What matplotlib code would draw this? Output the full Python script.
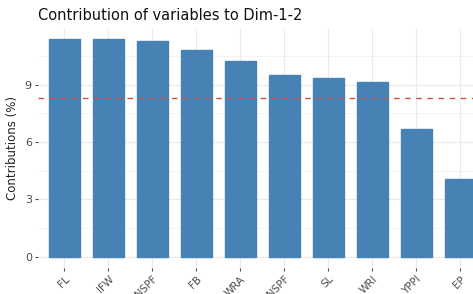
import matplotlib
matplotlib.use("Agg")
import matplotlib.pyplot as plt
import numpy as np

variables = ["FL", "IFW", "NSPF", "FB", "WRA", "NSPF", "SL", "WRI", "YPPI", "EP"]
contrib = [11.37, 11.37, 11.29, 10.80, 10.24, 9.50, 9.33, 9.13, 6.69, 4.08]
expected = 100.0 / 12
yticks = [0, 3, 6, 9]

W, H = 473, 294
fig = plt.figure(figsize=(W / 100, H / 100), dpi=100)
ax = fig.add_axes([38 / W, 26.4 / H, (W - 38) / W, 239 / H])

x = np.arange(len(variables))
grid_col = "#ebebeb"
for v in [1.5, 4.5, 7.5, 10.5]:
    ax.axhline(v, color="#f3f3f3", lw=0.6, zorder=0)
for v in yticks:
    ax.axhline(v, color=grid_col, lw=0.9, zorder=0)
for xi in x:
    ax.axvline(xi, color=grid_col, lw=0.9, zorder=0)

ax.bar(x, contrib, width=0.7, color="steelblue", edgecolor="steelblue", zorder=2)
ax.axhline(expected, color="#c8504a", ls=(0, (4, 4)), lw=1.0, zorder=3)

ax.set_xlim(-0.6, 9.29)
ax.set_ylim(-0.57, 11.94)
ax.set_xticks(x)
ax.set_xticklabels(variables, rotation=45, ha="right", rotation_mode="anchor",
                   fontsize=7.5, color="#4d4d4d")
ax.set_yticks(yticks)
ax.set_yticklabels([str(v) for v in yticks], fontsize=8, color="#4d4d4d")
ax.tick_params(axis="both", length=2.5, width=0.8, color="#4d4d4d", pad=2)
for s in ax.spines.values():
    s.set_visible(False)

ax.set_ylabel("Contributions (%)", fontsize=8.5, color="#222222", labelpad=4)
fig.text(38 / W, 1 - 15 / H, "Contribution of variables to Dim-1-2",
         fontsize=10.5, color="#111111", va="center", ha="left")

fig.savefig("out.png", dpi=100)
